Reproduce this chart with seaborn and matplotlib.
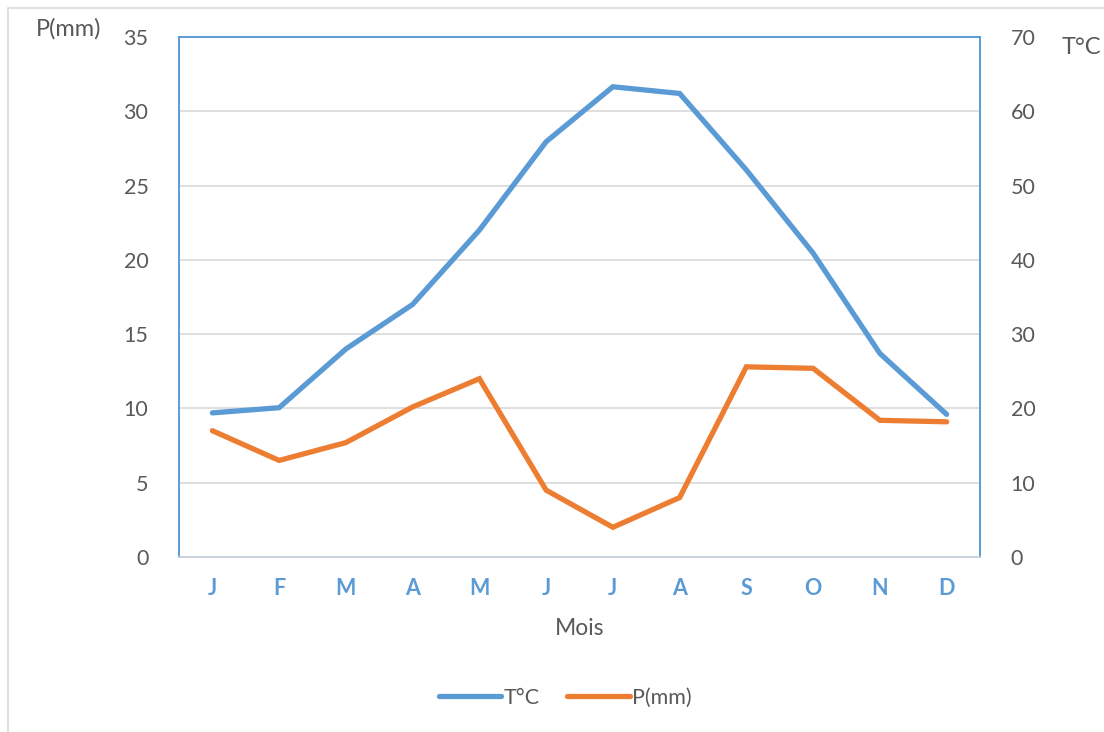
import numpy as np
import pandas as pd
import seaborn as sns
import matplotlib.pyplot as plt
from matplotlib.lines import Line2D
from matplotlib.patches import Rectangle

# monthly values
mois = ['J', 'F', 'M', 'A', 'M', 'J', 'J', 'A', 'S', 'O', 'N', 'D']
temp_c = [19.4, 20.1, 28.0, 34.0, 44.0, 55.9, 63.3, 62.4, 52.1, 40.9, 27.4, 19.2]
precip_mm = [8.5, 6.5, 7.7, 10.1, 12.0, 4.5, 2.0, 4.0, 12.8, 12.7, 9.2, 9.1]

blue = '#5B9BD5'
orange = '#ED7D31'
grey_txt = '#595959'

df = pd.DataFrame({'idx': range(12), 'T': temp_c, 'P': precip_mm})

sns.set_theme(style='white')
plt.rcParams['font.family'] = ['Lato', 'DejaVu Sans']

fig = plt.figure(figsize=(11.04, 7.32), dpi=100)
ax = fig.add_axes([179 / 1104, 1 - 557 / 732, 801 / 1104, 520 / 732])
ax2 = ax.twinx()

# P(mm) on the left axis, T°C on the right axis
sns.lineplot(data=df, x='idx', y='P', ax=ax, color=orange, linewidth=3.8,
             solid_capstyle='round', solid_joinstyle='miter')
sns.lineplot(data=df, x='idx', y='T', ax=ax2, color=blue, linewidth=3.8,
             solid_capstyle='round', solid_joinstyle='miter')

ax.set_xlim(-0.5, 11.5)
ax.set_ylim(0, 35)
ax2.set_ylim(0, 70)
ax.set_yticks(range(0, 36, 5))
ax2.set_yticks(range(0, 71, 10))
ax.yaxis.grid(True, color='#D9D9D9', linewidth=1.2)
ax.set_axisbelow(True)

ax.set_xticks(range(12))
ax.set_xticklabels(mois, color=blue, fontweight='bold', fontsize=15.5)
ax.tick_params(axis='x', length=0, pad=15)
ax.tick_params(axis='y', length=0, pad=22, labelsize=15.5, labelcolor=grey_txt)
ax2.tick_params(axis='y', length=0, pad=22, labelsize=15.5, labelcolor=grey_txt)

ax.set_xlabel('Mois', fontsize=16.5, color=grey_txt, labelpad=14)
ax.set_ylabel('')
ax2.set_ylabel('')

for a in (ax, ax2):
    for side in ('left', 'top', 'right'):
        a.spines[side].set_color(blue)
        a.spines[side].set_linewidth(1.2)
    a.spines['bottom'].set_color('#C9D3DF')
    a.spines['bottom'].set_linewidth(1.2)

fig.text(36 / 1104, 1 - 29 / 732, 'P(mm)', fontsize=17, color=grey_txt, va='center', ha='left')
fig.text(1062 / 1104, 1 - 47 / 732, 'T°C', fontsize=17, color=grey_txt, va='center', ha='left')

handles = [Line2D([0], [0], color=blue, linewidth=3.8, solid_capstyle='round'),
           Line2D([0], [0], color=orange, linewidth=3.8, solid_capstyle='round')]
fig.legend(handles, ['T°C', 'P(mm)'], loc='center', bbox_to_anchor=(565 / 1104, 1 - 698 / 732),
           ncol=2, frameon=False, fontsize=15.5, labelcolor=grey_txt,
           handlelength=2.9, handletextpad=0.1, columnspacing=1.3)

# light outer chart frame
fig.patches.append(Rectangle((8 / 1104, -0.05), 1.2, 1 - 8 / 732 + 0.05, transform=fig.transFigure,
                             fill=False, edgecolor='#D9D9D9', linewidth=1.2))

fig.savefig('out.png', dpi=100)
